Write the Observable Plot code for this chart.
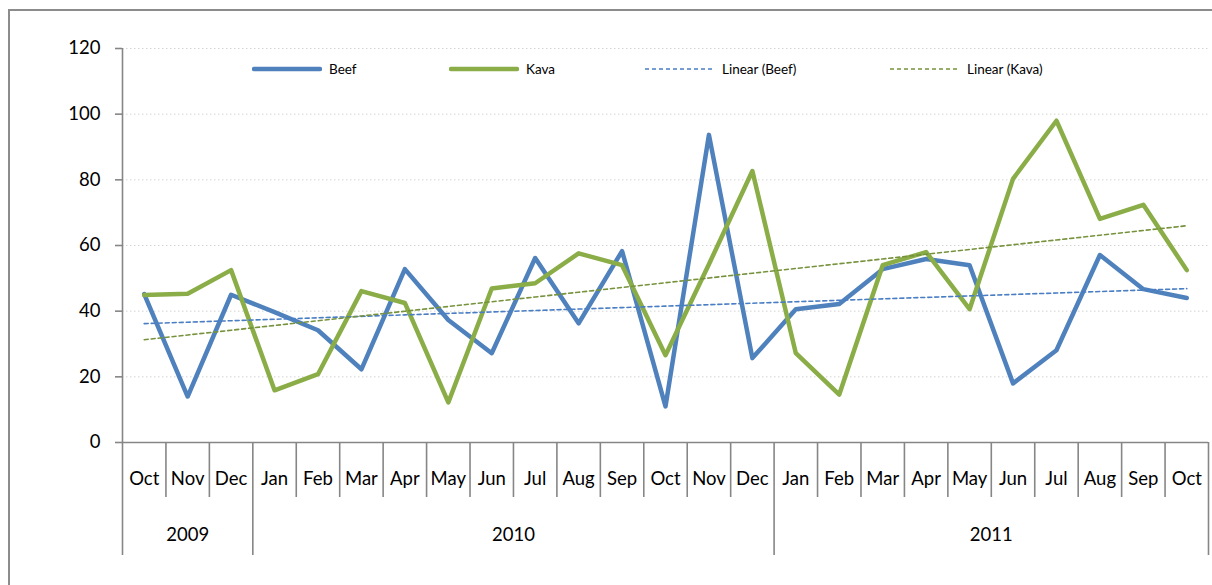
<!DOCTYPE html>
<html>
<head>
<meta charset="utf-8">
<script src="https://cdn.jsdelivr.net/npm/d3@7"></script>
<script src="https://cdn.jsdelivr.net/npm/@observablehq/plot@0.6"></script>
<style>
  html, body { margin: 0; padding: 0; width: 1212px; height: 585px; overflow: hidden; background: #fff; }
  #wrap { position: relative; width: 1212px; height: 585px; font-family: Lato, "Liberation Sans", sans-serif; }
  #border { position: absolute; left: 8px; top: 9px; width: 1230px; height: 620px; border: 2px solid #8c8c8c; box-sizing: border-box; pointer-events: none; }
  #chart { position: absolute; left: 0; top: 0; }
  .lg { position: absolute; top: 61px; height: 16px; display: flex; align-items: center; font-size: 13.5px; color: #000; white-space: nowrap; }
  .lg svg { margin-right: 7px; }
</style>
</head>
<body>
<div id="wrap">
  <div id="chart"></div>
  <div id="legend"></div>
  <div id="border"></div>
</div>
<script>
// ---- data ----
const months = ["Oct","Nov","Dec","Jan","Feb","Mar","Apr","May","Jun","Jul","Aug","Sep","Oct","Nov","Dec","Jan","Feb","Mar","Apr","May","Jun","Jul","Aug","Sep","Oct"];
const years = ["2009", "2010", "2011"];
const yearMonthCounts = [3, 12, 10];
const beef = [45.2, 14.0, 45.0, 39.7, 34.2, 22.3, 52.8, 37.3, 27.2, 56.2, 36.3, 58.3, 11.0, 93.7, 25.7, 40.6, 42.2, 52.8, 55.9, 54.0, 18.0, 28.1, 57.1, 46.7, 44.0];
const kava = [44.9, 45.3, 52.5, 15.9, 20.8, 46.1, 42.5, 12.2, 46.9, 48.5, 57.6, 54.0, 26.6, 54.3, 82.7, 27.2, 14.6, 54.0, 58.0, 40.6, 80.3, 98.0, 68.1, 72.4, 52.5];
const yTicks = [0, 20, 40, 60, 80, 100, 120];
const seriesNames = ["Beef", "Kava", "Linear (Beef)", "Linear (Kava)"];

// ---- styles ----
const beefColor = "#4F81BD";
const kavaColor = "#8AAD47";
const beefTrendColor = "#4A7EC4";
const kavaTrendColor = "#76923C";
const axisColor = "#868686";

// ---- derived tables ----
const rows = months.map((m, i) => ({ i, month: m, beef: beef[i], kava: kava[i] }));

function linearFit(vals) {
  const n = vals.length;
  const xs = vals.map((_, i) => i);
  const mx = d3.mean(xs), my = d3.mean(vals);
  let sxy = 0, sxx = 0;
  for (let i = 0; i < n; i++) { sxy += (xs[i] - mx) * (vals[i] - my); sxx += (xs[i] - mx) ** 2; }
  const b = sxy / sxx, a = my - b * mx;
  return xs.map(x => ({ i: x, v: a + b * x }));
}
const beefTrend = linearFit(beef);
const kavaTrend = linearFit(kava);

// boundaries between categories, with year boundaries marked
const yearStarts = [];
{ let s = 0; for (const c of yearMonthCounts) { yearStarts.push(s); s += c; } yearStarts.push(s); }
const boundaries = d3.range(months.length + 1).map(k => ({ x: k - 0.5, year: yearStarts.includes(k) }));
const yearRows = years.map((y, k) => ({ year: y, center: yearStarts[k] + (yearMonthCounts[k] - 1) / 2 }));

const unitsPerPx = 120 / (585 - 48 - 143);
const monthSepDepth = 55 * unitsPerPx;
const yearSepDepth = 113 * unitsPerPx;

const plot = Plot.plot({
  width: 1212,
  height: 585,
  marginLeft: 122,
  marginRight: 4,
  marginTop: 48,
  marginBottom: 143,
  x: { domain: [-0.5, months.length - 0.5], axis: null },
  y: { domain: [0, 120], axis: null },
  style: { fontFamily: "Lato, 'Liberation Sans', sans-serif", background: "transparent", overflow: "visible", color: "#000" },
  marks: [
    Plot.gridY(yTicks.filter(t => t > 0), { stroke: "#d4d4d4", strokeOpacity: 1, strokeDasharray: "1.5,2.5", strokeWidth: 1 }),
    Plot.ruleY([0], { stroke: axisColor, strokeWidth: 1.6 }),
    Plot.ruleX([-0.5], { stroke: axisColor, strokeWidth: 1.6 }),
    Plot.axisY(yTicks, { tickSize: 7, tickPadding: 15, fontSize: 18.5, stroke: axisColor, strokeWidth: 1.6, fill: "#000", label: null }),
    Plot.ruleX(boundaries, { x: "x", y1: 0, y2: d => d.year ? -yearSepDepth : -monthSepDepth, stroke: axisColor, strokeWidth: 1.6 }),
    Plot.text(rows, { x: "i", y: 0, text: "month", dy: 37, fontSize: 18.5, fill: "#000" }),
    Plot.text(yearRows, { x: "center", y: 0, text: "year", dy: 93, fontSize: 18.5, fill: "#000" }),
    Plot.line(rows, { x: "i", y: "beef", stroke: beefColor, strokeWidth: 4.5, strokeLinejoin: "round", strokeLinecap: "round" }),
    Plot.line(rows, { x: "i", y: "kava", stroke: kavaColor, strokeWidth: 4.5, strokeLinejoin: "round", strokeLinecap: "round" }),
    Plot.line(beefTrend, { x: "i", y: "v", stroke: beefTrendColor, strokeWidth: 1.6, strokeDasharray: "4,3" }),
    Plot.line(kavaTrend, { x: "i", y: "v", stroke: kavaTrendColor, strokeWidth: 1.6, strokeDasharray: "4,3" })
  ]
});
document.getElementById("chart").appendChild(plot);

// ---- legend (inside plot area, overlaid) ----
const legendItems = [
  { name: seriesNames[0], color: beefColor, width: 4.5, dash: null, left: 252 },
  { name: seriesNames[1], color: kavaColor, width: 4.5, dash: null, left: 449 },
  { name: seriesNames[2], color: beefTrendColor, width: 1.6, dash: "4,3", left: 645 },
  { name: seriesNames[3], color: kavaTrendColor, width: 1.6, dash: "4,3", left: 890 }
];
const legend = document.getElementById("legend");
for (const it of legendItems) {
  const div = document.createElement("div");
  div.className = "lg";
  div.style.left = it.left + "px";
  div.innerHTML = `<svg width="70" height="10"><line x1="${it.width > 2 ? 2 : 0}" x2="${it.width > 2 ? 68 : 70}" y1="5" y2="5" stroke="${it.color}" stroke-width="${it.width}" stroke-linecap="${it.width > 2 ? 'round' : 'butt'}" ${it.dash ? `stroke-dasharray="${it.dash}"` : ""}/></svg><span>${it.name}</span>`;
  legend.appendChild(div);
}
</script>
</body>
</html>
